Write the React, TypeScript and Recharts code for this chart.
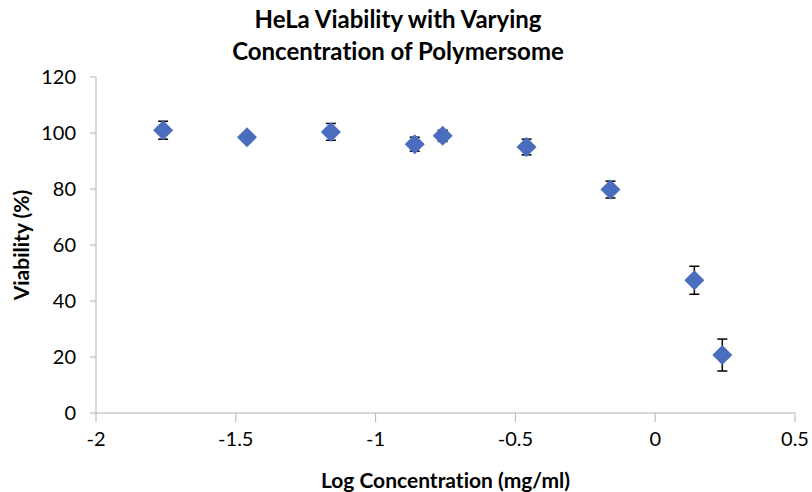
import React from 'react';
import { ScatterChart, Scatter, XAxis, YAxis, ErrorBar } from 'recharts';

const logConc = [-1.76, -1.46, -1.16, -0.86, -0.76, -0.46, -0.16, 0.14, 0.24];
const viability = [101, 98.5, 100.4, 96, 99, 95, 79.8, 47.4, 20.7];
const errors = [3.2, 1, 3, 2.5, 2, 2.8, 3, 5, 5.7];
const xTicks = [-2, -1.5, -1, -0.5, 0, 0.5];
const yTicks = [0, 20, 40, 60, 80, 100, 120];

const data = logConc.map((x, i) => ({ x, y: viability[i], err: errors[i] }));

const FONT = 'Lato, "Open Sans", sans-serif';
const AXIS_GREY = '#B3B3B3';

const Diamond = (props: any) => {
  const { cx, cy } = props;
  const r = 10;
  return (
    <polygon
      points={`${cx},${cy - r} ${cx + r},${cy} ${cx},${cy + r} ${cx - r},${cy}`}
      fill="#4A6DBE"
    />
  );
};

const App: React.FC = () => {
  return (
    <div
      style={{
        position: 'absolute',
        left: 0,
        top: 0,
        width: 812,
        height: 492,
        background: '#fff',
        fontFamily: FONT,
        fontVariantLigatures: 'none',
      }}
    >
      <div
        style={{
          position: 'absolute',
          left: 0,
          width: 796,
          top: 3,
          textAlign: 'center',
          fontSize: 24,
          fontWeight: 700,
          lineHeight: '32px',
          color: '#000',
        }}
      >
        HeLa Viability with Varying
        <br />
        Concentration of Polymersome
      </div>
      <ScatterChart width={812} height={492} margin={{ top: 77, right: 17, left: 0, bottom: 0 }}>
        <XAxis
          type="number"
          dataKey="x"
          domain={[-2, 0.5]}
          ticks={xTicks}
          interval={0}
          height={79}
          stroke={AXIS_GREY}
          tickSize={9}
          tickMargin={10}
          tick={{ fill: '#000', fontSize: 20, fontFamily: FONT }}
          label={{
            value: 'Log Concentration (mg/ml)',
            position: 'insideBottom',
            offset: 4,
            style: { fill: '#000', fontSize: 21, fontWeight: 700, fontFamily: FONT },
          }}
        />
        <YAxis
          type="number"
          dataKey="y"
          domain={[0, 120]}
          ticks={yTicks}
          interval={0}
          width={96}
          stroke={AXIS_GREY}
          tickSize={6}
          tickMargin={14}
          tick={{ fill: '#000', fontSize: 20, fontFamily: FONT }}
          label={{
            value: 'Viability (%)',
            angle: -90,
            position: 'insideLeft',
            offset: 22,
            style: { fill: '#000', fontSize: 21, fontWeight: 700, fontFamily: FONT, textAnchor: 'middle' },
          }}
        />
        <Scatter data={data} shape={<Diamond />} isAnimationActive={false}>
          <ErrorBar dataKey="err" direction="y" width={5} stroke="#000" strokeWidth={1.5} />
        </Scatter>
      </ScatterChart>
    </div>
  );
};

export default App;
